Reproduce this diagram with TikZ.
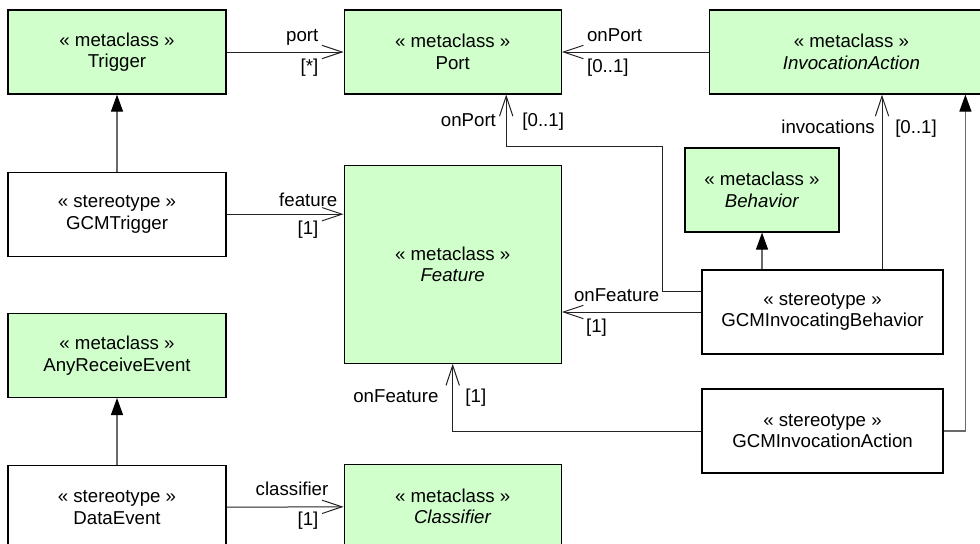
\documentclass[tikz,border=0pt]{standalone}
\usepackage{fontspec}
\setmainfont{Liberation Sans}
\usepackage{xcolor}
\usepackage{tikz}
\usetikzlibrary{arrows.meta,positioning,calc}
\definecolor{mcgreen}{RGB}{208,255,204}
\definecolor{mcline}{RGB}{35,35,35}
\definecolor{mcgray}{RGB}{105,105,105}
\tikzset{
  block/.style={rectangle, draw=black, line width=0.9pt, align=center, fill=mcgreen, inner sep=0pt, minimum width=163.5pt, minimum height=63pt, font=\fontsize{14}{16.2}\selectfont},
  whiteblock/.style={block, fill=white},
  arrow/.style={-{Straight Barb[length=15pt,width=10pt]}, line width=0.75pt, draw=mcline},
  genarrow/.style={-{Triangle[length=12.75pt,width=9pt,color=black]}, line width=0.9pt, draw=mcgray},
  role/.style={inner sep=0pt, font=\fontsize{14}{16.2}\selectfont}
}

\begin{document}
\begin{tikzpicture}[x=0.75pt, y=-0.75pt]
\useasboundingbox (0,0) rectangle (980,543);
\clip (0,0) rectangle (980,543);
\node[block] (a) at (117,52) {« metaclass »\\Trigger};
\node[block, minimum width=162.75pt, right=87.75pt of a] (b) {« metaclass »\\Port};
\node[block, minimum width=213pt, right=110.25pt of b] (c) {« metaclass »\\\textit{InvocationAction}};
\node[whiteblock, below=57.75pt of a] (d) {« stereotype »\\GCMTrigger};
\node[block, minimum width=162.75pt, minimum height=148.5pt, below=52.5pt of b] (e) {« metaclass »\\\textit{Feature}};
\node[block, minimum width=115.5pt] (f) at (762,190) {« metaclass »\\\textit{Behavior}};
\node[whiteblock, minimum width=180.75pt] (g) at (822.5,312) {« stereotype »\\GCMInvocatingBehavior};
\node[block, below=42pt of d] (h) {« metaclass »\\AnyReceiveEvent};
\node[whiteblock, minimum width=180.75pt] (i) at (822.5,431) {« stereotype »\\GCMInvocationAction};
\node[whiteblock, below=50.25pt of h] (j) {« stereotype »\\DataEvent};
\node[block, minimum width=162.75pt, below=75pt of e] (k) {« metaclass »\\\textit{Classifier}};
\coordinate (b1) at ($(b.south)+(53.5,0)$);
\coordinate (g1) at ($(g.north)+(59.5,0)$);
\coordinate (c1) at (g1|-c.south);
\coordinate (e1) at (g-|e.east);
\draw[arrow] (a)--(b);\draw[arrow] (c)--(b);\draw[arrow] (d)--(d-|e.west);\draw[arrow] (j)--(k);
\draw[genarrow] (d)--(a);\draw[genarrow] (j)--(h);\draw[genarrow] (g.north-|f)--(f);
\draw[arrow] (g)--(e1);\draw[arrow] (g1)--(c1);
\draw[arrow] ($(g.west)+(0,-21)$) -| (662,146) -| (b1);
\draw[arrow] (i) -| (e.south);
\draw[genarrow] (i) -| ($(c.south)+(114,0)$);
\node[role, anchor=base east] at ($(b.west)+(-25,-11)$) {port};
\node[role, anchor=base east] at ($(b.west)+(-25,20)$) {[*]};
\node[role, anchor=base east] at ($(d-|e.west)+(-6,-8)$) {feature};
\node[role, anchor=base east] at ($(d-|e.west)+(-25,20)$) {[1]};
\node[role, anchor=base east] at ($(k.west)+(-15,-11)$) {classifier};
\node[role, anchor=base east] at ($(k.west)+(-25,19)$) {[1]};
\node[role, anchor=base west] at ($(b.east)+(25,-11)$) {onPort};
\node[role, anchor=base west] at ($(b.east)+(25,20)$) {[0..1]};
\node[role, anchor=base east] at ($(b1)+(-10,32)$) {onPort};
\node[role, anchor=base west] at ($(b1)+(16,32)$) {[0..1]};
\node[role, anchor=base east] at ($(c1)+(-7,39)$) {invocations};
\node[role, anchor=base west] at ($(c1)+(13,39)$) {[0..1]};
\node[role, anchor=base west] at ($(e1)+(12,-11)$) {onFeature};
\node[role, anchor=base west] at ($(e1)+(24,20)$) {[1]};
\node[role, anchor=base east] at ($(e.south)+(-14,39)$) {onFeature};
\node[role, anchor=base west] at ($(e.south)+(12.5,39)$) {[1]};
\end{tikzpicture}
\end{document}
